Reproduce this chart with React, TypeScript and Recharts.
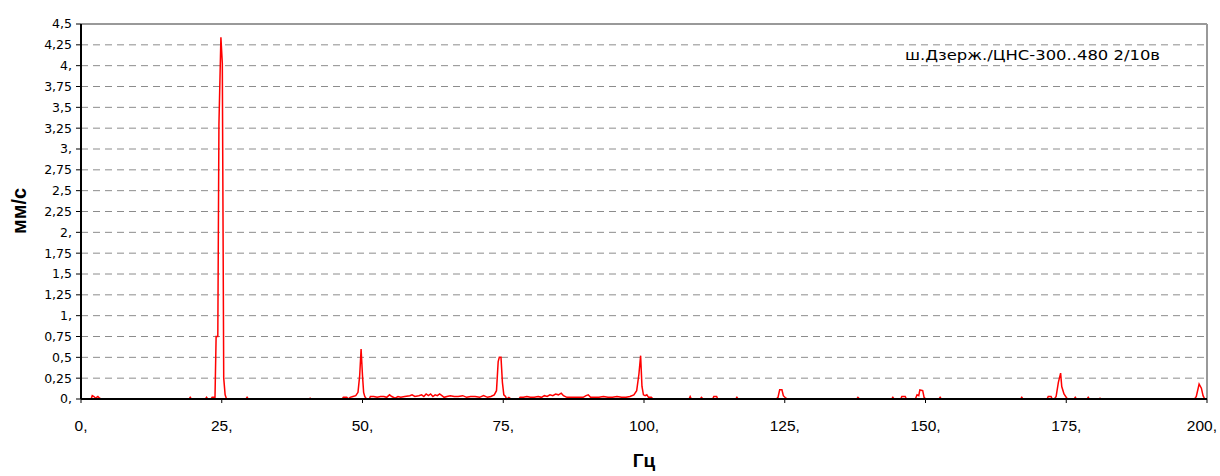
import { CartesianGrid, Line, LineChart, ReferenceLine, XAxis, YAxis } from 'recharts';

// spectrum points (Hz / mm/s)
const hz = [
  0, 1.8, 2.0, 2.3, 2.6, 3.0, 3.3, 3.6, 19.2, 19.4, 19.6, 22.1, 22.3, 22.5, 23.1, 23.3, 23.6, 23.8,
  24.0, 24.3, 24.5, 24.85, 25.1, 25.35, 25.6, 25.85, 29.3, 29.5, 29.7, 40.5, 40.7, 40.9,
  46.4, 46.6, 47.2, 47.5, 47.8, 48.3, 48.8, 49.2, 49.5, 49.75, 50.0, 50.2, 50.4, 50.7,
  51.2, 51.4, 52.0, 52.6, 53.2, 53.8, 54.3, 54.8, 55.2, 55.8, 56.3, 56.8, 57.5, 58.4, 58.8, 59.3,
  60.0, 60.5, 60.9, 61.3, 61.7, 62.1, 62.5, 62.9, 63.3, 63.7, 64.1, 64.5, 65.0, 65.6, 66.3, 67.0,
  67.8, 68.5, 69.2, 70.0, 70.8, 71.5, 72.2, 72.8, 73.4, 73.8, 74.1, 74.3, 74.6, 74.85, 75.1, 75.4, 75.6,
  76.0, 76.4, 77.8, 78.0, 78.6, 79.2, 79.8, 80.5, 81.2, 81.8, 82.3, 82.8, 83.3, 83.8, 84.3, 84.8,
  85.3, 85.7, 86.3, 87.0, 87.8, 88.5, 89.2, 89.7, 90.1, 90.5, 91.2, 92.0, 92.8, 93.6, 94.4, 95.2,
  96.0, 96.8, 97.5, 98.2, 98.7, 99.1, 99.4, 99.64, 99.9, 100.2, 100.5, 100.8, 101.3, 101.6,
  108.0, 108.2, 108.4, 110.0, 110.2, 110.5, 112.2, 112.4, 112.9, 113.1, 116.3, 116.5, 116.7,
  123.5, 123.8, 124.1, 124.5, 124.75, 125.2, 125.5, 137.8, 138.0, 138.3,
  144.0, 144.2, 144.4, 145.6, 145.8, 146.4, 146.6, 148.2, 148.5, 148.8, 149.0, 149.5, 149.75, 150.0,
  152.4, 152.6, 152.8, 166.9, 167.1, 167.3, 171.6, 171.8, 172.3, 172.5, 172.9, 173.2, 173.6, 174.0,
  174.2, 174.6, 175.1, 175.3, 176.4, 176.6, 176.8, 178.7, 178.9, 179.1, 180.8, 181.0, 181.2,
  197.8, 198.1, 198.6, 199.0, 199.3, 199.6, 200,
];

const mms = [
  0, 0, 0.04, 0.03, 0.01, 0.03, 0.01, 0, 0, 0.02, 0, 0, 0.02, 0, 0, 0.02, 0.02, 0.02,
  0.75, 0.75, 3.3, 4.34, 4.03, 0.25, 0.05, 0, 0, 0.02, 0, 0, 0.01, 0,
  0, 0.02, 0.02, 0, 0.02, 0.03, 0.04, 0.08, 0.28, 0.6, 0.28, 0.08, 0.03, 0,
  0, 0.03, 0.03, 0.02, 0.03, 0.03, 0.02, 0.05, 0.03, 0.01, 0.03, 0.02, 0.03, 0.04, 0.05, 0.03,
  0.04, 0.05, 0.03, 0.06, 0.04, 0.06, 0.03, 0.05, 0.04, 0.06, 0.04, 0.02, 0.03, 0.04, 0.03, 0.03,
  0.04, 0.02, 0.03, 0.03, 0.02, 0.04, 0.02, 0.03, 0.05, 0.1, 0.45, 0.5, 0.5, 0.2, 0.05, 0.03, 0,
  0.02, 0, 0, 0.02, 0.02, 0.03, 0.02, 0.02, 0.03, 0.02, 0.04, 0.03, 0.05, 0.04, 0.06, 0.05,
  0.07, 0.04, 0.02, 0.02, 0.02, 0.02, 0.02, 0.04, 0.05, 0.02, 0.02, 0.02, 0.03, 0.02, 0.02, 0.03,
  0.02, 0.02, 0.03, 0.05, 0.1, 0.3, 0.52, 0.15, 0.05, 0.04, 0.05, 0.02, 0.02, 0,
  0, 0.03, 0, 0, 0.02, 0, 0, 0.03, 0.03, 0, 0, 0.02, 0,
  0, 0.02, 0.11, 0.11, 0.04, 0.01, 0, 0, 0.02, 0,
  0, 0.02, 0, 0, 0.03, 0.03, 0, 0, 0.05, 0.04, 0.11, 0.1, 0.02, 0,
  0, 0.02, 0, 0, 0.02, 0, 0, 0.03, 0.03, 0, 0, 0.03, 0.2, 0.31,
  0.15, 0.06, 0.01, 0, 0, 0.02, 0, 0, 0.02, 0, 0, 0.01, 0,
  0, 0.03, 0.18, 0.13, 0.04, 0, 0,
];

const xTicks = [0, 25, 50, 75, 100, 125, 150, 175, 200];
const yTicks = [0, 0.25, 0.5, 0.75, 1, 1.25, 1.5, 1.75, 2, 2.25, 2.5, 2.75, 3, 3.25, 3.5, 3.75, 4, 4.25, 4.5];

const seriesName = 'ш.Дзерж./ЦНС-300..480 2/10в';

const data = hz.map((f, i) => ({ hz: f, v: mms[i] }));

const comma = (v: number) => {
  const [a, b] = String(v).split('.');
  return `${a},${b ?? ''}`;
};

// last label sits against the right edge, like in the original
function HzTick({ x, y, payload }: any) {
  const last = payload.value === xTicks[xTicks.length - 1];
  return (
    <text
      x={last ? 1217 : x}
      y={y + 15}
      dy="0.71em"
      textAnchor={last ? 'end' : 'middle'}
      fill="#000"
      fontSize={15.5}
      fontFamily="Liberation Sans, Arial"
    >
      {comma(payload.value)}
    </text>
  );
}

export default function App() {
  return (
    <div style={{ position: 'absolute', left: 0, top: 0, width: 1220, height: 476, background: '#fff' }}>
      <LineChart width={1220} height={476} data={data} margin={{ top: 24, right: 13, bottom: 0, left: 0 }}>
        <CartesianGrid vertical={false} stroke="#8c8c8c" strokeDasharray="7 5" />
        <XAxis
          dataKey="hz"
          type="number"
          domain={[0, 200]}
          ticks={xTicks}
          height={77}
          axisLine={{ stroke: '#000', strokeWidth: 2 }}
          tickLine={{ stroke: '#000' }}
          tickSize={4}
          tick={<HzTick />}
        />
        <YAxis
          type="number"
          domain={[0, 4.5]}
          ticks={yTicks}
          tickFormatter={comma}
          width={81}
          axisLine={{ stroke: '#000', strokeWidth: 2 }}
          tickLine={{ stroke: '#000' }}
          tickSize={5}
          tickMargin={4}
          interval={0}
          tick={{ fill: '#000', fontSize: 12.5, fontFamily: 'DejaVu Sans' }}
        />
        <ReferenceLine y={4.5} stroke="#999" strokeWidth={2} />
        <ReferenceLine x={200} stroke="#999" strokeWidth={2} />
        <Line type="linear" dataKey="v" stroke="#ff0000" strokeWidth={1.5} dot={false} isAnimationActive={false} />
      </LineChart>
      <svg width={1220} height={476} style={{ position: 'absolute', left: 0, top: 0, pointerEvents: 'none' }}>
        <text x={905} y={60} fontSize={13.5} fontFamily="DejaVu Sans" textLength={255} lengthAdjust="spacingAndGlyphs">
          {seriesName}
        </text>
        <text
          x={26}
          y={211}
          transform="rotate(-90 26 211)"
          textAnchor="middle"
          fontSize={20}
          fontWeight="bold"
          fontFamily="Liberation Sans, Arial"
          textLength={46}
          lengthAdjust="spacingAndGlyphs"
        >
          мм/с
        </text>
        <text x={644} y={467} textAnchor="middle" fontSize={19} fontWeight="bold" fontFamily="Liberation Sans, Arial">
          Гц
        </text>
      </svg>
    </div>
  );
}
